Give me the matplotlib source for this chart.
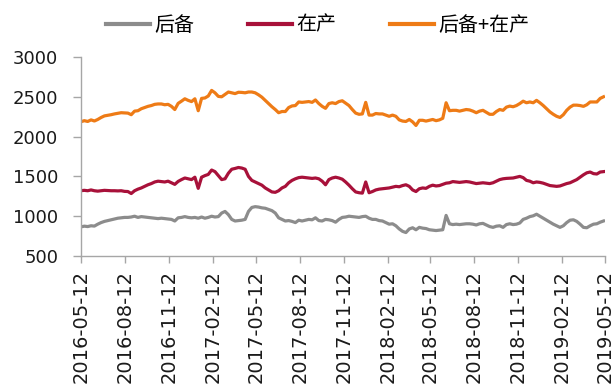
#!/usr/bin/env python3

import matplotlib
matplotlib.use("Agg")
import matplotlib.pyplot as plt
import matplotlib.dates as mdates
import pandas as pd

# weekly series, first week 2016-05-12
start_date = "2016-05-12"

reserve = [
    866, 875, 870, 880, 876, 900, 920, 935, 945, 955,
    965, 975, 980, 985, 985, 990, 1000, 985, 995, 990,
    985, 980, 975, 970, 975, 970, 965, 960, 940, 980,
    985, 995, 985, 980, 985, 975, 990, 975, 985, 1000,
    990, 995, 1040, 1060, 1020, 960, 940, 945, 950, 960,
    1060, 1110, 1120, 1115, 1105, 1100, 1085, 1070, 1040, 980,
    960, 940, 945, 935, 920, 950, 940, 950, 960, 955,
    980, 945, 940, 960, 955, 945, 925,
    960, 985, 990, 1000, 995, 990, 985, 995, 1000, 975,
    960, 960, 945, 940, 920, 900, 905, 880, 840, 810,
    795, 840, 855, 830, 860, 850, 845, 830, 825, 820,
    825, 830, 1010, 905, 895, 900, 895, 900, 905,
    905, 900, 890, 905, 910, 890, 870, 860, 875, 880,
    860, 895, 905, 895, 900, 915, 960, 975, 995, 1005,
    1025, 1000, 975, 950, 925, 900, 880, 860, 880, 920,
    950, 955, 935, 900, 860, 855, 880, 900, 905, 925, 940,
]

producing = [
    1321, 1325, 1320, 1330, 1320, 1315, 1320, 1325, 1322, 1320,
    1320, 1318, 1320, 1312, 1310, 1285, 1320, 1340, 1355, 1375,
    1395, 1410, 1430, 1440, 1435, 1430, 1440, 1420, 1400, 1437,
    1460, 1480, 1470, 1460, 1490, 1350, 1490, 1510, 1525, 1580,
    1560, 1510, 1460, 1470, 1540, 1590, 1600, 1612, 1605, 1590,
    1500, 1450, 1430, 1410, 1390, 1355, 1330, 1305, 1300, 1320,
    1355, 1375, 1420, 1450, 1470, 1485, 1490, 1485, 1480, 1475,
    1480, 1470, 1440, 1395, 1460, 1480, 1490,
    1480, 1465, 1430, 1390, 1345, 1305, 1295, 1290, 1430, 1295,
    1310, 1330, 1340, 1345, 1350, 1355, 1365, 1375, 1370, 1385,
    1395, 1375, 1330, 1310, 1345, 1355, 1350, 1375, 1390, 1380,
    1385, 1400, 1415, 1420, 1435, 1430, 1425, 1430, 1435,
    1430, 1420, 1410, 1415, 1420, 1415, 1410, 1420, 1440, 1460,
    1470, 1475, 1478, 1480, 1490, 1500, 1485, 1450, 1440, 1420,
    1430, 1425, 1415, 1400, 1385, 1380, 1375, 1380, 1395, 1410,
    1420, 1440, 1460, 1490, 1520, 1545, 1555, 1535, 1530, 1555, 1560,
]

labels = ["后备", "在产", "后备+在产"]
colors = ["#8c8c8c", "#a8113a", "#ee7b16"]
tick_dates = pd.date_range("2016-05-12", periods=13, freq=pd.DateOffset(months=3))
y_ticks = [500, 1000, 1500, 2000, 2500, 3000]


def main():
    dates = pd.date_range(start_date, periods=len(reserve), freq="7D")
    total = [a + b for a, b in zip(reserve, producing)]

    fig = plt.figure(figsize=(6.15, 3.85), dpi=100)
    ax = fig.add_axes([0.1317, 0.335, 0.852, 0.517])

    lines = []
    for series, name, color in zip([reserve, producing, total], labels, colors):
        ln, = ax.plot(dates, series, color=color, linewidth=2.3, label=name)
        lines.append(ln)

    ax.set_xlim(tick_dates[0], tick_dates[-1])
    ax.set_ylim(500, 3000)
    ax.set_yticks(y_ticks)
    ax.set_xticks(tick_dates)
    ax.xaxis.set_major_formatter(mdates.DateFormatter("%Y-%m-%d"))

    for side in ["top", "right"]:
        ax.spines[side].set_visible(False)
    for side in ["left", "bottom"]:
        ax.spines[side].set_color("#a6a6a6")
        ax.spines[side].set_linewidth(1.0)

    ax.tick_params(axis="y", length=5.5, width=1.0, color="#a6a6a6",
                   labelsize=13, pad=11, labelcolor="#1a1a1a")
    ax.tick_params(axis="x", length=5.0, width=1.0, color="#a6a6a6",
                   labelsize=14, pad=5, labelcolor="#1a1a1a", labelrotation=90)

    fig.legend(handles=lines, labels=labels, loc="center", ncol=3,
               bbox_to_anchor=(0.517, 0.935), frameon=False,
               prop={"family": ["Noto Sans CJK SC", "DejaVu Sans"], "size": 14.4},
               handlelength=2.2, handletextpad=0.2, columnspacing=2.7)
    for ln in fig.legends[0].get_lines():
        ln.set_linewidth(3.0)

    fig.savefig("out.png", dpi=100)


if __name__ == "__main__":
    main()
